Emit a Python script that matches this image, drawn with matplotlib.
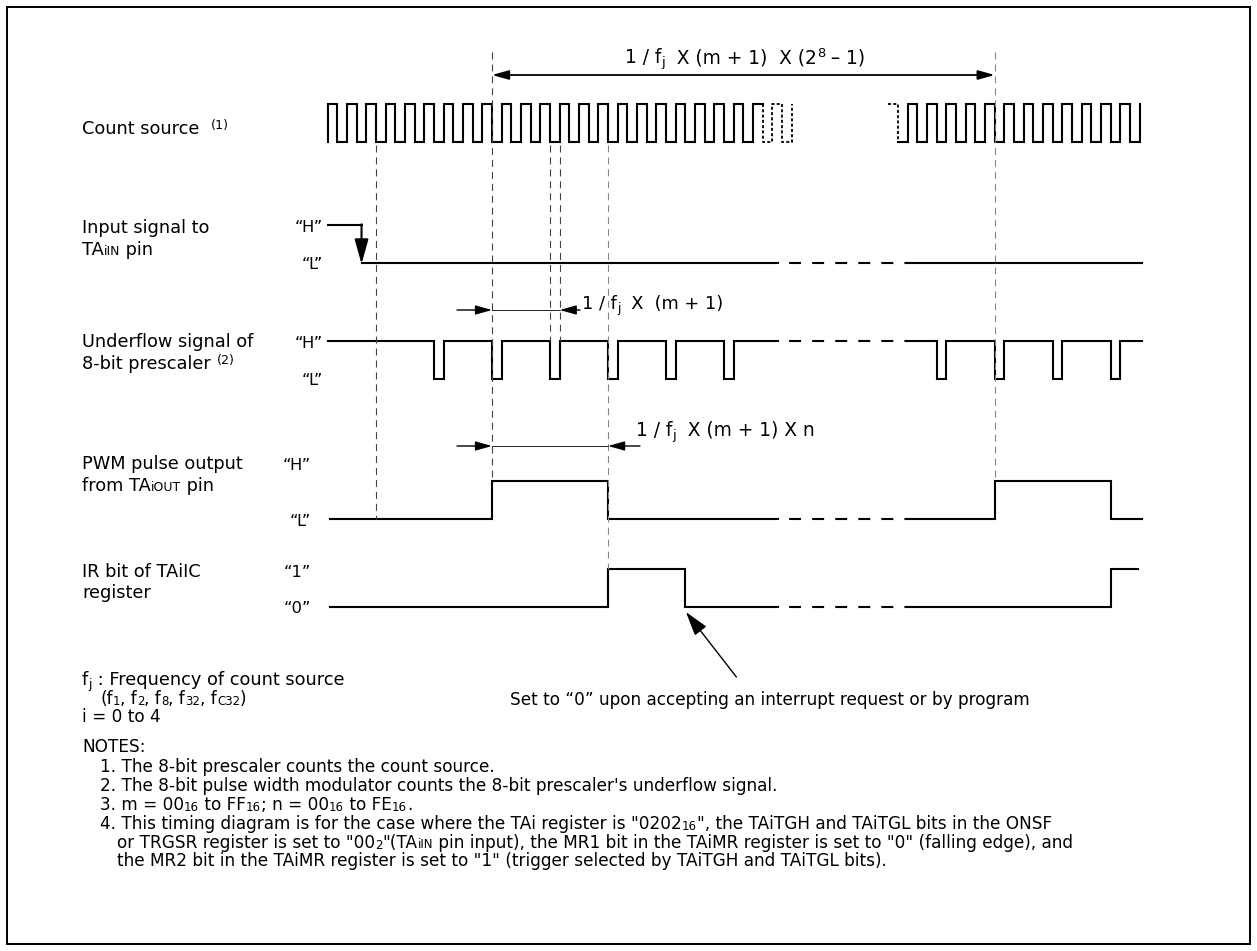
import matplotlib
matplotlib.use("Agg")
import matplotlib.pyplot as plt
from matplotlib.patches import Rectangle

plt.rcParams["font.family"] = ["DejaVu Sans"]
plt.rcParams["lines.scale_dashes"] = False
plt.rcParams["lines.solid_joinstyle"] = "miter"
plt.rcParams["lines.solid_capstyle"] = "projecting"

# ---------------- data (time measured in count-source periods) ----------------
clk_a_rise = [0, 1, 2, 3, 4, 5, 6, 7, 8, 9, 10, 11, 12, 13, 14, 15, 16, 17, 18, 19, 20, 21, 22]
clk_a_fall = [0.5, 1.5, 2.5, 3.5, 4.5, 5.5, 6.5, 7.5, 8.5, 9.5, 10.5, 11.5, 12.5, 13.5,
              14.5, 15.5, 16.5, 17.5, 18.5, 19.5, 20.5, 21.5]
clk_a_dash = [22.5, 23, 23.5, 24]          # dashed continuation edges
clk_b_dash = [29.5]                         # dashed lead-in edge
clk_b_rise = [30, 31, 32, 33, 34, 35, 36, 37, 38, 39, 40, 41, 42]
clk_b_fall = [30.5, 31.5, 32.5, 33.5, 34.5, 35.5, 36.5, 37.5, 38.5, 39.5, 40.5, 41.5]
in_edges = [1.75]
uf_dip_start = [5.5, 8.5, 11.5, 14.5, 17.5, 20.5, 31.5, 34.5, 37.5, 40.5]
uf_dip_end = [6, 9, 12, 15, 18, 21, 32, 35, 38, 41]
pwm_edges = [8.5, 14.5, 34.5, 40.5]
ir_edges = [14.5, 18.5, 40.5]
guide_t = [2.5, 8.5, 11.5, 12, 14.5, 34.5]
span_total = [8.5, 34.5]
span_prescaler = [8.5, 12]
span_pwm = [8.5, 14.5]
ir_clear_t = 18.5

row_names = [["Count source"], ["Input signal to", "TA|iIN| pin"],
             ["Underflow signal of", "8-bit prescaler"], ["PWM pulse output", "from TA|iOUT| pin"],
             ["IR bit of TAiIC", "register"]]

# ---------------- layout ----------------
W, H = 1257, 951
X0, DX = 327.7, 19.333
T_START, T_END = 0.0, 42.1
BRK = (23.3, 30.1)
Y_CLK = (104, 142)
Y_IN = (225, 263)
Y_UF = (341, 379)
Y_PWM = (481, 519)
Y_IR = (569, 607)
LW = 1.5

fig = plt.figure(figsize=(W / 100, H / 100), dpi=100)
lay = fig.add_axes([0, 0, 1, 1])
lay.set_xlim(0, W); lay.set_ylim(H, 0); lay.axis("off")
sig = fig.add_axes([0, 0, 1, 1])
sig.set_xlim(-X0 / DX, (W - X0) / DX); sig.set_ylim(H, 0); sig.axis("off")
sig.patch.set_alpha(0)

lay.add_patch(Rectangle((7, 7), 1243, 937, fill=False, lw=1.4, ec="black"))


def steps(t0, t1, high, toggles, ys, incl_end=False):
    yh, yl = ys
    xs, yy = [t0], [yh if high else yl]
    for e in toggles:
        if t0 <= e and (e < t1 or (incl_end and e <= t1)):
            xs += [e, e]
            yy += [yh if high else yl, yl if high else yh]
            high = not high
    xs.append(t1); yy.append(yh if high else yl)
    return xs, yy, high


SOLID = dict(color="black", lw=LW)
FINE_DASH = dict(color="black", lw=1.3, linestyle=(0, (2.2, 1.6)))
BREAK_DASH = dict(color="black", lw=LW, linestyle=(8.6, (8.6, 8.0)))

# count source
a_tog = sorted(clk_a_rise + clk_a_fall)
xs, yy, _ = steps(0, 22.5, False, a_tog, Y_CLK)
sig.plot(xs, yy, **SOLID)
xs, yy, _ = steps(22.5, 24, True, clk_a_dash, Y_CLK, incl_end=True)
sig.plot(xs, yy, **FINE_DASH)
xs, yy, _ = steps(29, 29.5, True, clk_b_dash, Y_CLK, incl_end=True)
sig.plot(xs, yy, **FINE_DASH)
b_tog = sorted(clk_b_rise + clk_b_fall)
xs, yy, _ = steps(29.5, 42, False, b_tog, Y_CLK, incl_end=True)
sig.plot(xs, yy, **SOLID)


def signal(high, toggles, ys, t0=T_START, t1=T_END):
    xs, yy, lv = steps(t0, BRK[0], high, toggles, ys)
    sig.plot(xs, yy, **SOLID)
    yb = ys[0] if lv else ys[1]
    sig.plot([BRK[0], BRK[1]], [yb, yb], **BREAK_DASH)
    xs, yy, _ = steps(BRK[1], t1, lv, toggles, ys)
    sig.plot(xs, yy, **SOLID)


# input signal: H line then arrow down
sig.plot([T_START, in_edges[0]], [Y_IN[0], Y_IN[0]], **SOLID)
sig.annotate("", xy=(in_edges[0], Y_IN[1] + 1), xytext=(in_edges[0], Y_IN[0] - 0.7),
             arrowprops=dict(arrowstyle="-|>,head_length=1.0,head_width=0.28", mutation_scale=15,
                             lw=LW, color="black", shrinkA=0, shrinkB=0))
signal(False, [], Y_IN, t0=in_edges[0])

uf_tog = sorted(uf_dip_start + uf_dip_end)
signal(True, uf_tog, Y_UF)
signal(False, pwm_edges, Y_PWM, t0=0.1)
signal(False, ir_edges, Y_IR, t0=0.1, t1=41.9)

# guide lines
guide_y = [(145, 519), (52, 481), (145, 341), (145, 341), (145, 569), (52, 481)]
guide_c = ["#444444", "#444444", "#444444", "#444444", "#888888", "#888888"]
for t, (y0, y1), c in zip(guide_t, guide_y, guide_c):
    sig.plot([t, t], [y0, y1], color=c, lw=0.8, linestyle=(0, (5.0, 3.6)))


def arrow(head, tail, lw=1.0, ms=10, hw=0.28):
    sig.annotate("", xy=head, xytext=tail,
                 arrowprops=dict(arrowstyle=f"-|>,head_length=1.0,head_width={hw}", mutation_scale=ms,
                                 lw=lw, color="black", shrinkA=0, shrinkB=0))


# top span arrow
y_top = 75
sig.annotate("", xy=(span_total[1], y_top), xytext=(span_total[0], y_top),
             arrowprops=dict(arrowstyle="<|-|>,head_length=1.0,head_width=0.28", mutation_scale=10,
                             lw=1.3, color="black", shrinkA=0, shrinkB=0))

# prescaler period arrow
y_a1 = 310
tl = (457 - X0) / DX
arrow((span_prescaler[0], y_a1), (tl, y_a1))
arrow((span_prescaler[1], y_a1), ((580 - X0) / DX, y_a1))
sig.plot(span_prescaler, [y_a1, y_a1], color="black", lw=0.6)

# pwm width arrow
y_a2 = 446
arrow((span_pwm[0], y_a2), (tl, y_a2))
arrow((span_pwm[1], y_a2), ((640 - X0) / DX, y_a2))
sig.plot(span_pwm, [y_a2, y_a2], color="black", lw=0.6)

# IR clear arrow
arrow((ir_clear_t + 0.03, 612), (ir_clear_t + 2.64, 677), lw=1.0, ms=15, hw=0.3)

# ---------------- text ----------------
R = fig.canvas.get_renderer()


def twidth(s, size):
    t = lay.text(0, 0, "|" + s + "|", fontsize=size)
    w1 = t.get_window_extent(R).width
    t.remove()
    t = lay.text(0, 0, "||", fontsize=size)
    w2 = t.get_window_extent(R).width
    t.remove()
    return w1 - w2


LS = 12.0 * 127.0 / twidth("Input signal to", 12.0)
NS = 12.0 * 676.0 / twidth("2. The 8-bit pulse width modulator counts the 8-bit prescaler's underflow signal.", 12.0)
FS = LS * 1.05


def runs(x, y, parts, size, ha="left"):
    parts = [(p if isinstance(p, tuple) else (p, 1.0, 0)) for p in parts]
    ws = [twidth(s, size * sc) for s, sc, dy in parts]
    tot = sum(ws)
    if ha == "center":
        x -= tot / 2
    elif ha == "right":
        x -= tot
    for (s, sc, dy), w in zip(parts, ws):
        lay.text(x, y + dy, s, fontsize=size * sc, va="baseline", ha="left")
        x += w


SUB = 0.7
LX = 82
# row labels
runs(LX, 134, ["Count source  ", ("(1)", 0.72, -5)], LS)
runs(LX, 233, [row_names[1][0]], LS)
runs(LX, 255, ["TA", ("iIN", SUB, 0), " pin"], LS)
runs(LX, 347, [row_names[2][0]], LS)
runs(LX, 369, [row_names[2][1] + " ", ("(2)", 0.72, -5)], LS)
runs(LX, 469, [row_names[3][0]], LS)
runs(LX, 491, ["from TA", ("iOUT", SUB, 0), " pin"], LS)
runs(LX, 577, [row_names[4][0]], LS)
runs(LX, 598, [row_names[4][1]], LS)

# level labels
HS = LS * 0.92
runs(323, 232, ["\u201cH\u201d"], HS, ha="right")
runs(323, 269, ["\u201cL\u201d"], HS, ha="right")
runs(323, 348, ["\u201cH\u201d"], HS, ha="right")
runs(323, 385, ["\u201cL\u201d"], HS, ha="right")
runs(311, 470, ["\u201cH\u201d"], HS, ha="right")
runs(311, 526, ["\u201cL\u201d"], HS, ha="right")
runs(311, 577, ["\u201c1\u201d"], HS, ha="right")
runs(311, 613, ["\u201c0\u201d"], HS, ha="right")

# span formulas
runs(745, 63, ["1 / f", ("j", SUB, 3), "  X (m + 1)  X (2", ("8", SUB, -6), " \u2013 1)"], FS, ha="center")
runs(582, 309, ["1 / f", ("j", SUB, 3), "  X  (m + 1)"], LS)
runs(636, 436, ["1 / f", ("j", SUB, 3), "  X (m + 1) X n"], FS)

# bottom left
runs(LX, 685, ["f", ("j", SUB, 3), " : Frequency of count source"], LS)
runs(100, 704, ["(f", ("1", SUB, 1), ", f", ("2", SUB, 1), ", f", ("8", SUB, 1), ", f", ("32", SUB, 1),
                ", f", ("C32", SUB, 1), ")"], NS)
runs(LX, 722, ["i = 0 to 4"], NS)
runs(510, 705, ["Set to \u201c0\u201d upon accepting an interrupt request or by program"], NS)

runs(LX, 752, ["NOTES:"], NS)
runs(100, 772, ["1. The 8-bit prescaler counts the count source."], NS)
runs(100, 791, ["2. The 8-bit pulse width modulator counts the 8-bit prescaler's underflow signal."], NS)
runs(100, 810, ["3. m = 00", ("16", SUB, 1), " to FF", ("16", SUB, 1), "; n = 00", ("16", SUB, 1),
                " to FE", ("16", SUB, 1), "."], NS)
runs(100, 829, ["4. This timing diagram is for the case where the TAi register is \"0202", ("16", SUB, 1),
                "\", the TAiTGH and TAiTGL bits in the ONSF"], NS)
runs(117, 848, ["or TRGSR register is set to \"00", ("2", SUB, 1), "\"(TA", ("iIN", SUB, 0),
                " pin input), the MR1 bit in the TAiMR register is set to \"0\" (falling edge), and"], NS)
runs(117, 866, ["the MR2 bit in the TAiMR register is set to \"1\" (trigger selected by TAiTGH and TAiTGL bits)."], NS)

fig.savefig("out.png", dpi=100)
